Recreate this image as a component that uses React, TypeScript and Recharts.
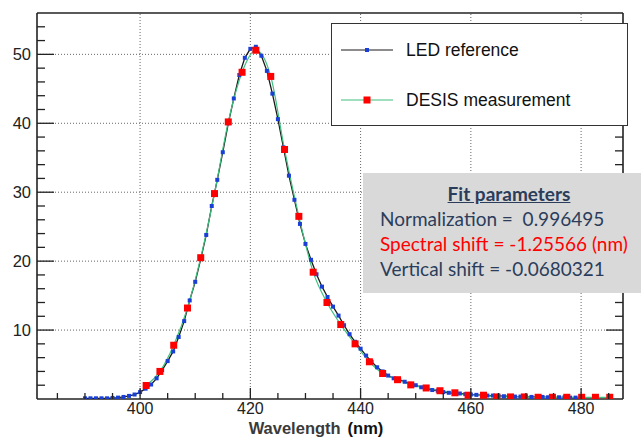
import { ComposedChart, Line, XAxis, YAxis, ReferenceLine, Legend } from 'recharts';

// LED reference spectrum (blue points, black line)
const ledWavelength = [
  390, 391, 392, 393, 394, 395, 396, 397, 398, 399,
  400, 401, 402, 403, 404, 405, 406, 407, 408, 409,
  410, 411, 412, 413, 414, 415, 416, 417, 418, 419,
  420, 421, 422, 423, 424, 425, 426, 427, 428, 429,
  430, 431, 432, 433, 434, 435, 436, 437, 438, 439,
  440, 441, 442, 443, 444, 445, 446, 447, 448, 449,
  450, 451, 452, 453, 454, 455, 456, 457, 458, 459,
  460, 461, 462, 463, 464, 465, 466, 467, 468, 469,
  470, 471, 472, 473, 474, 475, 476, 477, 478, 479, 480,
];
const ledIntensity = [
  0.1, 0.1, 0.1, 0.1, 0.1, 0.15, 0.2, 0.3, 0.45, 0.65,
  1.0, 1.5, 2.1, 3.0, 4.2, 5.5, 6.9, 9.0, 11.3, 14.3,
  17.0, 20.3, 23.8, 28.0, 31.8, 35.8, 40.0, 43.6, 47.0, 49.5,
  50.8, 51.1, 49.8, 47.6, 44.3, 40.6, 36.5, 32.4, 28.9, 25.4,
  22.5, 20.2, 18.1, 16.3, 14.8, 13.4, 12.1, 10.7, 9.4, 8.3,
  7.3, 6.3, 5.4, 4.6, 4.0, 3.4, 3.0, 2.8, 2.5, 2.2,
  2.0, 1.7, 1.5, 1.3, 1.2, 1.0, 0.9, 0.85, 0.8, 0.7,
  0.65, 0.6, 0.55, 0.5, 0.5, 0.45, 0.4, 0.4, 0.35, 0.35,
  0.3, 0.3, 0.3, 0.3, 0.25, 0.25, 0.25, 0.25, 0.2, 0.2, 0.2,
];

// DESIS measurement (red squares, green line)
const desisWavelength = [
  401.1, 403.6, 406.1, 408.6, 411.0, 413.5, 416.0, 418.5, 421.0, 423.7,
  426.2, 428.8, 431.4, 433.9, 436.4, 439.0, 441.6, 444.0, 446.7, 449.1,
  451.9, 454.4, 457.1, 459.5, 462.3, 464.7, 467.2, 469.7, 472.2, 474.8,
  477.4, 480.1, 482.6, 485.2,
];
const desisIntensity = [
  1.96, 4.0, 7.8, 13.2, 20.5, 29.8, 40.2, 47.4, 50.6, 46.8,
  36.2, 26.5, 18.4, 14.0, 10.8, 8.0, 5.4, 3.7, 2.8, 2.05,
  1.6, 1.2, 0.9, 0.55, 0.55, 0.3, 0.3, 0.3, 0.25, 0.25,
  0.25, 0.25, 0.25, 0.25,
];

const xMajorTicks = [400, 420, 440, 460, 480];
const xMinorTicks = [385, 390, 395, 405, 410, 415, 425, 430, 435, 445, 450, 455, 465, 470, 475, 485];
const yMajorTicks = [10, 20, 30, 40, 50];
const yMinorTicks = [2, 4, 6, 8, 12, 14, 16, 18, 22, 24, 26, 28, 32, 34, 36, 38, 42, 44, 46, 48, 52, 54];

const fitTitle = 'Fit parameters';
const fitLines = [
  { text: 'Normalization =  0.996495', color: '#2b3d5b' },
  { text: 'Spectral shift = -1.25566 (nm)', color: '#ff0000' },
  { text: 'Vertical shift = -0.0680321', color: '#2b3d5b' },
];

const ledData = ledWavelength.map((x, i) => ({ x, y: ledIntensity[i] }));
const desisData = desisWavelength.map((x, i) => ({ x, y: desisIntensity[i] }));

const X_DOMAIN: [number, number] = [381.3, 487.6];
const Y_DOMAIN: [number, number] = [0, 56];
const AXIS = '#222';
const LABEL_FONT = '"Liberation Sans", Arial, sans-serif';

const squareDot = (size: number, fill: string) => (props: any) => {
  const { cx, cy, index } = props;
  if (cx == null || cy == null) return <g key={index} />;
  return <rect key={index} x={cx - size / 2} y={cy - size / 2} width={size} height={size} fill={fill} />;
};

const XTick = (props: any) => {
  const { x, y, payload } = props;
  const major = xMajorTicks.includes(payload.value);
  return (
    <g>
      <line x1={x} x2={x} y1={y} y2={y - (major ? 11 : 6)} stroke={AXIS} strokeWidth={1.3} />
      {major && (
        <text x={x} y={y + 15} textAnchor="middle" fontSize={16} fontFamily={LABEL_FONT} fill="#222">
          {payload.value}
        </text>
      )}
    </g>
  );
};

const YTick = (props: any) => {
  const { x, y, payload } = props;
  const major = yMajorTicks.includes(payload.value);
  return (
    <g>
      <line x1={x} x2={x + (major ? 17 : 8)} y1={y} y2={y} stroke={AXIS} strokeWidth={1.3} />
      {major && (
        <text x={x - 6} y={y} dy="0.36em" textAnchor="end" fontSize={16.5} fontFamily={LABEL_FONT} fill="#222">
          {payload.value}
        </text>
      )}
    </g>
  );
};

const YTickRight = (props: any) => {
  const { x, y, payload } = props;
  const major = yMajorTicks.includes(payload.value);
  return <line x1={x} x2={x - (major ? 17 : 8)} y1={y} y2={y} stroke={AXIS} strokeWidth={1.3} />;
};

const XTitle = (props: any) => {
  const { viewBox } = props;
  const cx = viewBox.x + viewBox.width / 2 - 14;
  return (
    <text x={cx} y={viewBox.y + 35} textAnchor="middle" fontSize={16.5} fontWeight="bold" fontFamily={LABEL_FONT}>
      <tspan fill="#3a3a3a">Wavelength</tspan>
      <tspan fill="#111" dx={7}>(nm)</tspan>
    </text>
  );
};

const LegendBox = () => (
  <div
    style={{
      width: 297,
      height: 103,
      boxSizing: 'border-box',
      border: '1.3px solid #333',
      background: '#fff',
      position: 'relative',
      fontFamily: LABEL_FONT,
      fontSize: 17.5,
      color: '#111',
    }}
  >
    {[
      { name: 'LED reference', line: '#1a1a1a', mark: '#1a3fd6', size: 4, top: 26 },
      { name: 'DESIS measurement', line: '#40c080', mark: '#ff0000', size: 7, top: 76 },
    ].map((e) => (
      <div key={e.name} style={{ position: 'absolute', left: 0, top: e.top - 11, height: 22, width: '100%' }}>
        <svg width={64} height={22} style={{ position: 'absolute', left: 9, top: 0 }}>
          <line x1={0} x2={52} y1={11} y2={11} stroke={e.line} strokeWidth={1.2} />
          <rect x={26 - e.size / 2} y={11 - e.size / 2} width={e.size} height={e.size} fill={e.mark} />
        </svg>
        <span style={{ position: 'absolute', left: 74, top: 0, lineHeight: '22px', whiteSpace: 'nowrap' }}>{e.name}</span>
      </div>
    ))}
  </div>
);

export default function App() {
  return (
    <div style={{ position: 'absolute', left: 0, top: 0, width: 644, height: 438, background: '#fff' }}>
      <ComposedChart width={644} height={438} margin={{ top: 13, right: 0, bottom: 0, left: 0 }}>
        <XAxis
          dataKey="x"
          type="number"
          domain={X_DOMAIN}
          allowDataOverflow
          ticks={[...xMajorTicks, ...xMinorTicks].sort((a, b) => a - b)}
          interval={0}
          tick={<XTick />}
          tickSize={0}
          tickMargin={0}
          tickLine={false}
          height={39}
          axisLine={{ stroke: AXIS, strokeWidth: 1.6 }}
          label={<XTitle />}
        />
        <YAxis
          yAxisId="left"
          type="number"
          domain={Y_DOMAIN}
          allowDataOverflow
          ticks={[...yMajorTicks, ...yMinorTicks].sort((a, b) => a - b)}
          interval={0}
          tick={<YTick />}
          tickSize={0}
          tickMargin={0}
          tickLine={false}
          width={37}
          axisLine={{ stroke: AXIS, strokeWidth: 1.6 }}
        />
        <YAxis
          yAxisId="right"
          orientation="right"
          type="number"
          domain={Y_DOMAIN}
          allowDataOverflow
          ticks={[...yMajorTicks, ...yMinorTicks].sort((a, b) => a - b)}
          interval={0}
          tick={<YTickRight />}
          tickSize={0}
          tickMargin={0}
          tickLine={false}
          width={21}
          axisLine={{ stroke: AXIS, strokeWidth: 1.6 }}
        />
        {xMajorTicks.map((v) => (
          <ReferenceLine key={'gx' + v} x={v} yAxisId="left" stroke="#666" strokeDasharray="1 2" strokeWidth={1} />
        ))}
        {yMajorTicks.map((v) => (
          <ReferenceLine key={'gy' + v} y={v} yAxisId="left" stroke="#666" strokeDasharray="1 2" strokeWidth={1} />
        ))}
        <ReferenceLine y={Y_DOMAIN[1]} yAxisId="left" stroke={AXIS} strokeWidth={1.6} />
        <Line
          data={ledData}
          dataKey="y"
          yAxisId="left"
          type="linear"
          stroke="#1a1a1a"
          strokeWidth={1.3}
          dot={squareDot(4, '#1a3fd6')}
          activeDot={false}
          isAnimationActive={false}
        />
        <Line
          data={desisData}
          dataKey="y"
          yAxisId="left"
          type="monotone"
          stroke="#40c080"
          strokeWidth={1.2}
          dot={squareDot(7, '#ff0000')}
          activeDot={false}
          isAnimationActive={false}
        />
        <Legend
          layout="horizontal"
          verticalAlign="middle"
          align="center"
          content={() => <LegendBox />}
          wrapperStyle={{ left: 331, top: 23, width: 297, height: 103 }}
        />
      </ComposedChart>
      <div
        style={{
          position: 'absolute',
          left: 363,
          top: 173,
          width: 278,
          height: 120,
          background: '#d9d9d9',
          fontFamily: 'Lato, "Open Sans", sans-serif',
          fontSize: 19,
        }}
      >
        <div
          style={{
            position: 'absolute',
            left: 0,
            width: '100%',
            top: 9,
            textAlign: 'center',
            fontWeight: 'bold',
            textDecoration: 'underline',
            color: '#2b3d5b',
            paddingLeft: 14,
            boxSizing: 'border-box',
          }}
        >
          {fitTitle}
        </div>
        {fitLines.map((l, i) => (
          <div
            key={l.text}
            style={{ position: 'absolute', left: 17, top: 34 + i * 25, color: l.color, whiteSpace: 'pre' }}
          >
            {l.text}
          </div>
        ))}
      </div>
    </div>
  );
}
